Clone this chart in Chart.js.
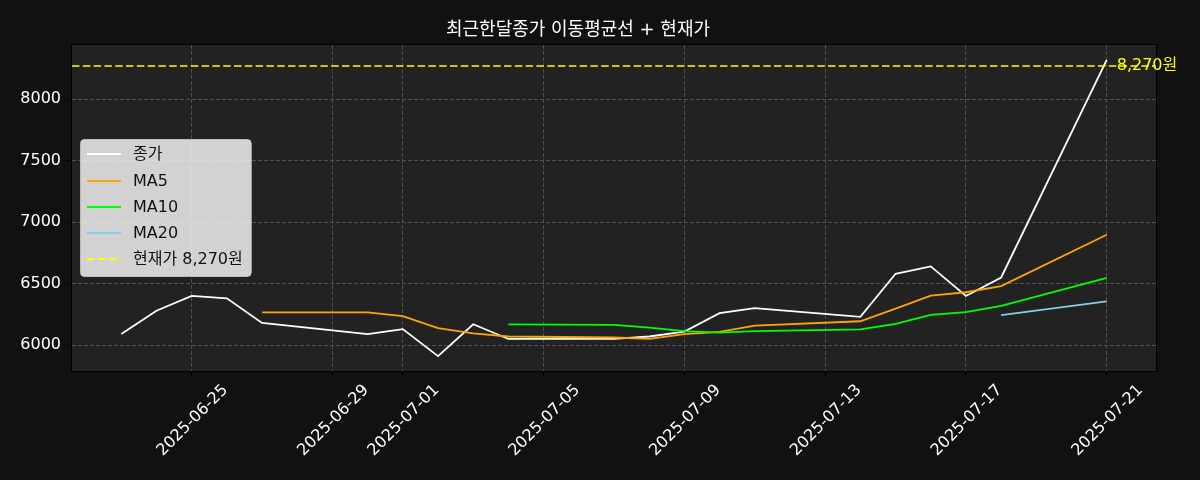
<!DOCTYPE html>
<html>
<head>
<meta charset="utf-8">
<script src="https://cdn.jsdelivr.net/npm/chart.js@4.4.1/dist/chart.umd.min.js"></script>
<style>
  html, body { margin: 0; padding: 0; background: #111111; }
  #wrap { width: 1200px; height: 480px; }
</style>
</head>
<body>
<div id="wrap"><canvas id="priceChart" width="1200" height="480"></canvas></div>
<script>
// data
const dates = ['2025-06-23','2025-06-24','2025-06-25','2025-06-26','2025-06-27','2025-06-30',
    '2025-07-01','2025-07-02','2025-07-03','2025-07-04','2025-07-07','2025-07-08','2025-07-09',
    '2025-07-10','2025-07-11','2025-07-14','2025-07-15','2025-07-16','2025-07-17','2025-07-18','2025-07-21'];
const closes = [6090,6280,6400,6380,6180,6090,6130,5910,6170,6050,6050,6070,6110,6260,6300,6230,6580,6640,6400,6550,8320];
const ma5 = [null,null,null,null,6266,6266,6236,6138,6096,6070,6062,6050,6090,6108,6158,6194,6296,6402,6430,6480,6898];
const ma10 = [null,null,null,null,null,null,null,null,null,6168,6164,6143,6114,6102,6114,6128,6173,6246,6269,6319,6546];
const ma20 = [null,null,null,null,null,null,null,null,null,null,null,null,null,null,null,null,null,null,null,6243,6356];
const currentPrice = 8270;
const xTickDates = ['2025-06-25','2025-06-29','2025-07-01','2025-07-05','2025-07-09','2025-07-13','2025-07-17','2025-07-21'];
const yTicks = [6000, 6500, 7000, 7500, 8000];

const titleText = '최근한달종가 이동평균선 + 현재가';
const FONT = "'DejaVu Sans', 'Noto Sans CJK KR', sans-serif";

const DAY = 86400000;
const base = Date.UTC(2025, 5, 21);
const dayNum = s => (Date.parse(s) - base) / DAY;
const dayLabel = v => new Date(base + Math.round(v) * DAY).toISOString().slice(0, 10);

const toPoints = arr => arr.map((v, i) => ({x: dayNum(dates[i]), y: v})).filter(p => p.y !== null);

const xMin = dayNum(dates[0]) - 1.4;
const xMax = dayNum(dates[dates.length - 1]) + 1.4;

const lineStyle = (label, data, color, order) => ({
    label: label,
    data: data,
    borderColor: color,
    backgroundColor: color,
    borderWidth: 1.8,
    pointRadius: 0,
    tension: 0,
    fill: false,
    order: order
});

const datasets = [
    lineStyle('종가', toPoints(closes), '#ffffff', 5),
    lineStyle('MA5', toPoints(ma5), '#ffa500', 4),
    lineStyle('MA10', toPoints(ma10), '#00ff00', 3),
    lineStyle('MA20', toPoints(ma20), '#87ceeb', 2),
    Object.assign(lineStyle('현재가 ' + currentPrice.toLocaleString('en-US') + '원',
        [{x: xMin, y: currentPrice}, {x: xMax, y: currentPrice}], '#ffff00', 1),
        {borderDash: [7.5, 3.3], borderWidth: 1.5})
];

// backgrounds, frame, custom legend, rotated date labels, price tag
const decor = {
    id: 'decor',
    beforeDraw(chart) {
        const ctx = chart.ctx, a = chart.chartArea;
        ctx.save();
        ctx.fillStyle = '#111111';
        ctx.fillRect(0, 0, chart.width, chart.height);
        ctx.fillStyle = '#222222';
        ctx.fillRect(a.left, a.top, a.right - a.left, a.bottom - a.top);
        ctx.restore();
    },
    afterDatasetsDraw(chart) {
        const ctx = chart.ctx, a = chart.chartArea;
        ctx.save();
        ctx.strokeStyle = '#000000';
        ctx.lineWidth = 1;
        ctx.strokeRect(a.left - 0.5, a.top - 0.5, a.right - a.left + 1, a.bottom - a.top + 1);
        ctx.restore();
    },
    afterDraw(chart) {
        const ctx = chart.ctx;
        const xs = chart.scales.x, ys = chart.scales.y;

        // date labels, rotated 45 degrees and centred on the tick like matplotlib
        ctx.save();
        ctx.font = '16px ' + FONT;
        ctx.fillStyle = '#ffffff';
        ctx.textAlign = 'right';
        ctx.textBaseline = 'top';
        xs.ticks.forEach(t => {
            const label = dayLabel(t.value);
            const w = ctx.measureText(label).width;
            const px = xs.getPixelForValue(t.value);
            ctx.save();
            ctx.translate(px + 0.354 * (w - 19) + 2, 382);
            ctx.rotate(-Math.PI / 4);
            ctx.fillText(label, 0, 0);
            ctx.restore();
        });
        ctx.restore();

        // price tag right of the plot
        ctx.save();
        ctx.font = '16px ' + FONT;
        ctx.fillStyle = '#ffff00';
        ctx.textAlign = 'left';
        ctx.textBaseline = 'middle';
        ctx.fillText(currentPrice.toLocaleString('en-US') + '원', xs.getPixelForValue(dayNum(dates[dates.length - 1])) + 10, ys.getPixelForValue(currentPrice));
        ctx.restore();

        // legend box inside the plot
        ctx.save();
        ctx.font = '16px ' + FONT;
        let textW = 0;
        datasets.forEach(d => { textW = Math.max(textW, ctx.measureText(d.label).width); });
        const bx = 80, by = 139, bw = 53 + textW + 8, bh = 137;
        ctx.fillStyle = 'rgba(255,255,255,0.8)';
        ctx.strokeStyle = 'rgba(204,204,204,0.8)';
        ctx.lineWidth = 1;
        ctx.beginPath();
        ctx.roundRect(bx + 0.5, by + 0.5, bw, bh, 4);
        ctx.fill();
        ctx.stroke();
        const rowY = [154, 181, 207, 233, 259];
        datasets.forEach((d, i) => {
            ctx.strokeStyle = d.borderColor;
            ctx.lineWidth = 1.8;
            ctx.setLineDash(d.borderDash || []);
            ctx.beginPath();
            ctx.moveTo(87, rowY[i]);
            ctx.lineTo(121, rowY[i]);
            ctx.stroke();
            ctx.setLineDash([]);
            ctx.fillStyle = '#111111';
            ctx.textAlign = 'left';
            ctx.textBaseline = 'middle';
            ctx.fillText(d.label, 133, rowY[i] + 1);
        });
        ctx.restore();
    }
};

const ctxPrice = document.getElementById('priceChart').getContext('2d');
new Chart(ctxPrice, {
    type: 'line',
    data: { datasets: datasets },
    options: {
        responsive: false,
        animation: false,
        layout: { padding: { left: 0, right: 44, top: 0, bottom: 0 } },
        scales: {
            x: {
                type: 'linear',
                min: xMin,
                max: xMax,
                afterBuildTicks: scale => { scale.ticks = xTickDates.map(d => ({value: dayNum(d)})); },
                afterFit: scale => { scale.height = 109; },
                ticks: { display: false },
                grid: { color: '#505050', lineWidth: 1, tickLength: 5, tickColor: '#000000' },
                border: { display: false, dash: [4, 2] }
            },
            y: {
                min: 5789.5,
                max: 8440.5,
                afterBuildTicks: scale => { scale.ticks = yTicks.map(v => ({value: v})); },
                afterFit: scale => { scale.width = 72; },
                ticks: {
                    color: '#ffffff',
                    padding: 6,
                    font: { family: FONT, size: 16 },
                    callback: v => String(v)
                },
                grid: { color: '#505050', lineWidth: 1, tickLength: 5, tickColor: '#000000' },
                border: { display: false, dash: [4, 2] }
            }
        },
        plugins: {
            legend: { display: false },
            tooltip: { enabled: false },
            title: {
                display: true,
                text: titleText,
                color: '#ffffff',
                font: { family: FONT, size: 18, weight: 'normal', lineHeight: 1.2 },
                padding: { top: 20, bottom: 3.4 }
            }
        }
    },
    plugins: [decor]
});
</script>
</body>
</html>
